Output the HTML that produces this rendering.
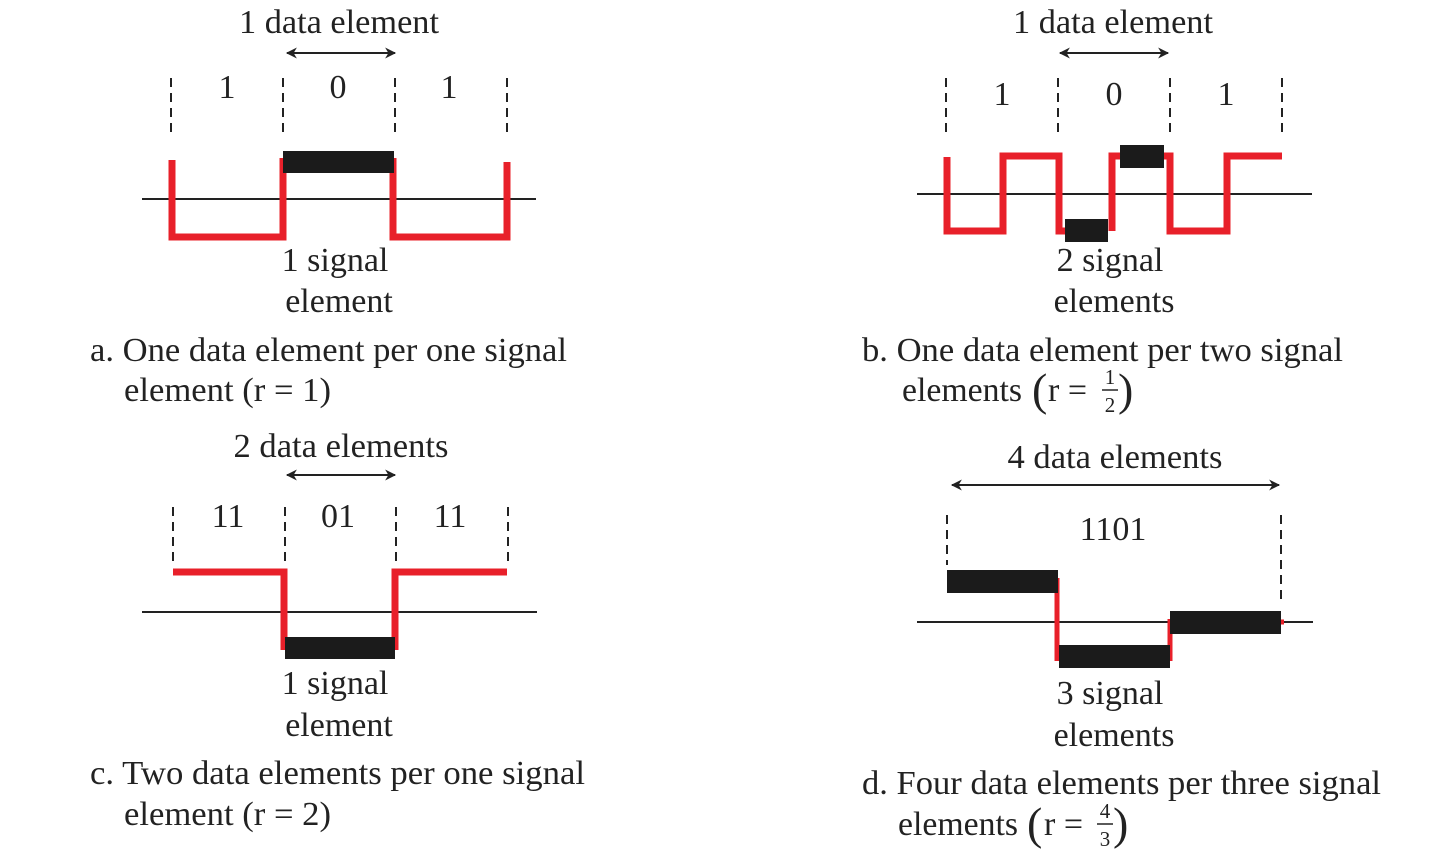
<!DOCTYPE html>
<html><head><meta charset="utf-8"><style>
html,body{margin:0;padding:0;background:#fff;}
svg{display:block;}
text{font-family:"Liberation Serif",serif;fill:#222;}
</style></head><body>
<svg width="1435" height="867" viewBox="0 0 1435 867" xmlns="http://www.w3.org/2000/svg">
<defs>
<marker id="ah" viewBox="0 0 10 10" refX="9" refY="5" markerWidth="18" markerHeight="11" orient="auto-start-reverse" markerUnits="userSpaceOnUse">
<path d="M0,0 L10,5 L0,10 L3,5 Z" fill="#222"/></marker>
</defs>
<g font-size="34">
<!-- Panel a -->
<text x="339" y="33" text-anchor="middle" textLength="200" lengthAdjust="spacingAndGlyphs">1 data element</text>
<line x1="287" y1="53" x2="395" y2="53" stroke="#222" stroke-width="2" marker-start="url(#ah)" marker-end="url(#ah)"/>
<g stroke="#222" stroke-width="2" stroke-dasharray="9,6">
<line x1="171" y1="78" x2="171" y2="134"/><line x1="283" y1="78" x2="283" y2="134"/>
<line x1="395" y1="78" x2="395" y2="134"/><line x1="507" y1="78" x2="507" y2="134"/></g>
<text x="227" y="98" text-anchor="middle">1</text><text x="338" y="98" text-anchor="middle">0</text><text x="449" y="98" text-anchor="middle">1</text>
<line x1="142" y1="199" x2="536" y2="199" stroke="#222" stroke-width="2"/>
<path d="M172,160 V237 H283 V158 M393,158 V237 H507 V162" fill="none" stroke="#e8202a" stroke-width="7"/>
<rect x="283" y="151" width="111" height="22" fill="#1b1b1b"/>
<text x="335" y="271" text-anchor="middle">1 signal</text>
<text x="339" y="312" text-anchor="middle">element</text>
<text x="90" y="361" textLength="477" lengthAdjust="spacingAndGlyphs">a. One data element per one signal</text>
<text x="124" y="401" textLength="207" lengthAdjust="spacingAndGlyphs">element (r = 1)</text>

<!-- Panel b -->
<text x="1113" y="33" text-anchor="middle" textLength="200" lengthAdjust="spacingAndGlyphs">1 data element</text>
<line x1="1060" y1="53" x2="1168" y2="53" stroke="#222" stroke-width="2" marker-start="url(#ah)" marker-end="url(#ah)"/>
<g stroke="#222" stroke-width="2" stroke-dasharray="9,6">
<line x1="946" y1="78" x2="946" y2="134"/><line x1="1058" y1="78" x2="1058" y2="134"/>
<line x1="1170" y1="78" x2="1170" y2="134"/><line x1="1282" y1="78" x2="1282" y2="134"/></g>
<text x="1002" y="105" text-anchor="middle">1</text><text x="1114" y="105" text-anchor="middle">0</text><text x="1226" y="105" text-anchor="middle">1</text>
<line x1="917" y1="194" x2="1312" y2="194" stroke="#222" stroke-width="2"/>
<path d="M947,157 V231 H1003 V156 H1059 V231 H1066 M1112,231 V156 H1120 M1164,156 H1170 V231 H1227 V156 H1282" fill="none" stroke="#e8202a" stroke-width="7"/>
<rect x="1065" y="219" width="43" height="23" fill="#1b1b1b"/>
<rect x="1120" y="145" width="44" height="23" fill="#1b1b1b"/>
<text x="1110" y="271" text-anchor="middle">2 signal</text>
<text x="1114" y="312" text-anchor="middle">elements</text>
<text x="862" y="361" textLength="481" lengthAdjust="spacingAndGlyphs">b. One data element per two signal</text>
<text x="902" y="401" textLength="120" lengthAdjust="spacingAndGlyphs">elements</text>
<text x="1032" y="405" font-size="46">(</text>
<text x="1048" y="401">r =</text>
<text x="1110" y="384" font-size="21" text-anchor="middle">1</text>
<line x1="1102" y1="390" x2="1118" y2="390" stroke="#222" stroke-width="1.5"/>
<text x="1110" y="412" font-size="21" text-anchor="middle">2</text>
<text x="1118" y="405" font-size="46">)</text>

<!-- Panel c -->
<text x="341" y="457" text-anchor="middle" textLength="215" lengthAdjust="spacingAndGlyphs">2 data elements</text>
<line x1="287" y1="475" x2="395" y2="475" stroke="#222" stroke-width="2" marker-start="url(#ah)" marker-end="url(#ah)"/>
<g stroke="#222" stroke-width="2" stroke-dasharray="9,6">
<line x1="173" y1="507" x2="173" y2="562"/><line x1="285" y1="507" x2="285" y2="562"/>
<line x1="396" y1="507" x2="396" y2="562"/><line x1="508" y1="507" x2="508" y2="562"/></g>
<text x="228" y="527" text-anchor="middle">11</text><text x="338" y="527" text-anchor="middle">01</text><text x="450" y="527" text-anchor="middle">11</text>
<line x1="142" y1="612" x2="537" y2="612" stroke="#222" stroke-width="2"/>
<path d="M173,572 H284 V650 M395,650 V572 H507" fill="none" stroke="#e8202a" stroke-width="7"/>
<rect x="285" y="637" width="110" height="22" fill="#1b1b1b"/>
<text x="335" y="694" text-anchor="middle">1 signal</text>
<text x="339" y="736" text-anchor="middle">element</text>
<text x="90" y="784" textLength="495" lengthAdjust="spacingAndGlyphs">c. Two data elements per one signal</text>
<text x="124" y="825" textLength="207" lengthAdjust="spacingAndGlyphs">element (r = 2)</text>

<!-- Panel d -->
<text x="1115" y="468" text-anchor="middle" textLength="215" lengthAdjust="spacingAndGlyphs">4 data elements</text>
<line x1="952" y1="485" x2="1279" y2="485" stroke="#222" stroke-width="2" marker-start="url(#ah)" marker-end="url(#ah)"/>
<g stroke="#222" stroke-width="2" stroke-dasharray="9,6">
<line x1="947" y1="515" x2="947" y2="565"/><line x1="1281" y1="515" x2="1281" y2="600"/></g>
<text x="1113" y="540" text-anchor="middle">1101</text>
<line x1="917" y1="622" x2="1313" y2="622" stroke="#222" stroke-width="2"/>
<path d="M1057,578 V661 M1170,619 V661 M1281,622 H1284" fill="none" stroke="#e8202a" stroke-width="5"/>
<rect x="947" y="570" width="111" height="23" fill="#1b1b1b"/>
<rect x="1059" y="645" width="111" height="23" fill="#1b1b1b"/>
<rect x="1170" y="611" width="111" height="23" fill="#1b1b1b"/>
<text x="1110" y="704" text-anchor="middle">3 signal</text>
<text x="1114" y="746" text-anchor="middle">elements</text>
<text x="862" y="794" textLength="519" lengthAdjust="spacingAndGlyphs">d. Four data elements per three signal</text>
<text x="898" y="835" textLength="120" lengthAdjust="spacingAndGlyphs">elements</text>
<text x="1027" y="839" font-size="46">(</text>
<text x="1044" y="835">r =</text>
<text x="1105" y="818" font-size="21" text-anchor="middle">4</text>
<line x1="1097" y1="824" x2="1113" y2="824" stroke="#222" stroke-width="1.5"/>
<text x="1105" y="846" font-size="21" text-anchor="middle">3</text>
<text x="1113" y="839" font-size="46">)</text>
</g>
</svg>
</body></html>
